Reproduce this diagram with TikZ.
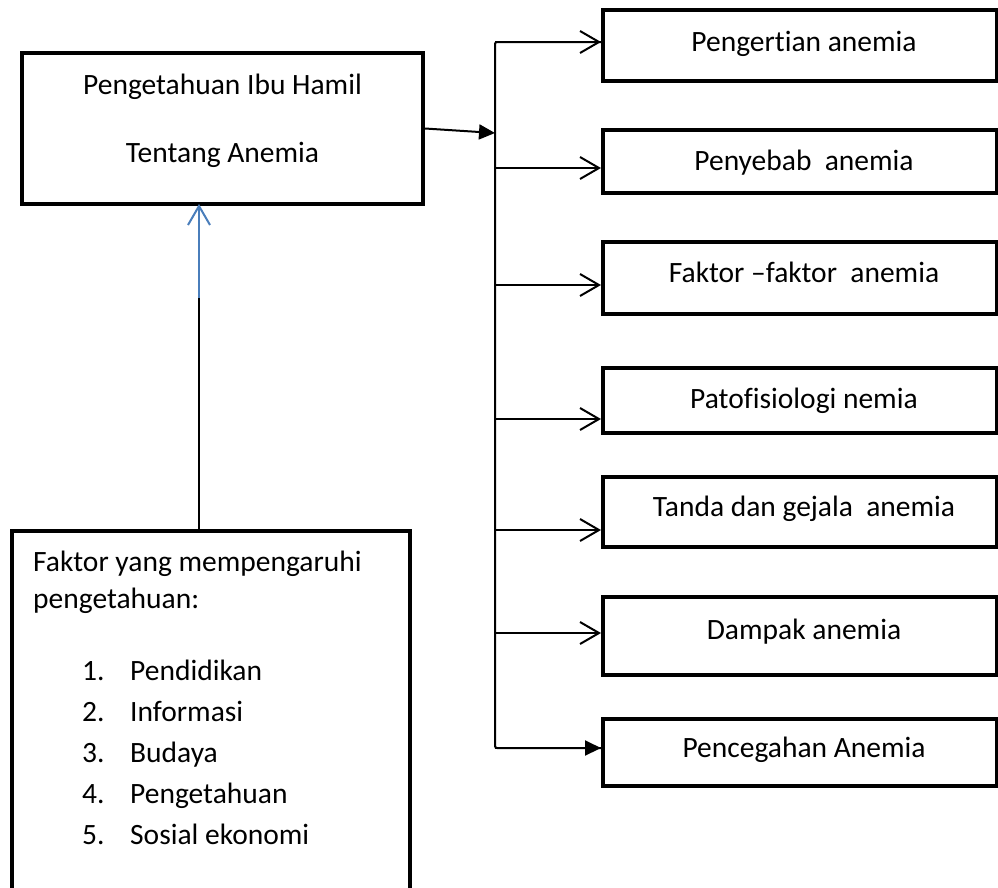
\documentclass[tikz,border=0pt]{standalone}
\usepackage{fontspec}
\setmainfont{Carlito}[Ligatures=NoCommon]
\usetikzlibrary{arrows.meta}
\definecolor{wordblue}{HTML}{4A7EBB}
\begin{document}
\begin{tikzpicture}[x=1pt,y=-1pt,
  box/.style={draw, line width=4pt, inner sep=0pt},
  lbl/.style={font=\fontsize{29.5}{35}\selectfont, anchor=base, inner sep=0pt},
  lblw/.style={font=\fontsize{29.5}{35}\selectfont, anchor=base west, inner sep=0pt},
  conn/.style={line width=2pt},
  openarr/.style={conn, -{Straight Barb[length=19pt,width=22pt,line width=2pt]}},
  fillarr/.style={conn, -{Triangle[length=16pt,width=15pt]}}]
\useasboundingbox (0,0) rectangle (998,887);
% main box
\node[box, minimum width=401pt, minimum height=151pt] (main) at (222.5,128.5) {};
\node[lbl] (m1) at (222.5,94) {Pengetahuan Ibu Hamil};
\node[lbl] (m2) at (222.5,162) {Tentang Anemia};
% bottom box
\node[box, minimum width=398pt, minimum height=361pt] (bot) at (211,711.5) {};
\node[lblw] (f1) at (33,571) {Faktor yang mempengaruhi};
\node[lblw] (f2) at (33,608) {pengetahuan:};
\node[lblw] (n1) at (82,680) {1.};
\node[lblw] (n2) at (82,721) {2.};
\node[lblw] (n3) at (82,762) {3.};
\node[lblw] (n4) at (82,803) {4.};
\node[lblw] (n5) at (82,844) {5.};
\node[lblw] (i1) at (130,680) {Pendidikan};
\node[lblw] (i2) at (130,721) {Informasi};
\node[lblw] (i3) at (130,762) {Budaya};
\node[lblw] (i4) at (130,803) {Pengetahuan};
\node[lblw] (i5) at (130,844) {Sosial ekonomi};
% right boxes
\node[box, minimum width=394pt, minimum height=71pt] (r1) at (800,45.5) {};
\node[box, minimum width=394pt, minimum height=63pt] (r2) at (800,161.5) {};
\node[box, minimum width=394pt, minimum height=72pt] (r3) at (800,278) {};
\node[box, minimum width=394pt, minimum height=65pt] (r4) at (800,400.5) {};
\node[box, minimum width=394pt, minimum height=70pt] (r5) at (800,512) {};
\node[box, minimum width=394pt, minimum height=78pt] (r6) at (800,636) {};
\node[box, minimum width=394pt, minimum height=67pt] (r7) at (800,752.5) {};
\node[lbl] (t1) at (804,51) {Pengertian anemia};
\node[lbl] (t2) at (804,170) {Penyebab\ \ anemia};
\node[lbl] (t3) at (804,282) {Faktor –faktor\ \ anemia};
\node[lbl] (t4) at (804,408) {Patofisiologi nemia};
\node[lbl] (t5) at (804,516) {Tanda dan gejala\ \ anemia};
\node[lbl] (t6) at (804,639) {Dampak anemia};
\node[lbl] (t7) at (804,757) {Pencegahan Anemia};
% branch
\coordinate (j) at (495,133);
\coordinate (b1) at (495,42);
\coordinate (b2) at (495,168);
\coordinate (b3) at (495,285);
\coordinate (b4) at (495,419);
\coordinate (b5) at (495,530);
\coordinate (b6) at (495,633);
\coordinate (b7) at (495,748);
\draw[fillarr] (main.east) -- (j);
\draw[conn, rounded corners=2pt] (b1 -| r1.west) -- (b1) -- (b7) -- (b7 -| r7.west);
\draw[openarr] (b1) -- (b1 -| r1.west);
\draw[openarr] (b2) -- (b2 -| r2.west);
\draw[openarr] (b3) -- (b3 -| r3.west);
\draw[openarr] (b4) -- (b4 -| r4.west);
\draw[openarr] (b5) -- (b5 -| r5.west);
\draw[openarr] (b6) -- (b6 -| r6.west);
\draw[fillarr] (b7) -- (b7 -| r7.west);
% upward connector
\coordinate (ub) at (199,531);
\coordinate (ut) at (199,204);
\coordinate (um) at (199,298);
\draw[conn] (ub) -- (ut);
\draw[conn, wordblue, -{Straight Barb[length=19pt,width=22pt,line width=2pt]}] (um) -- (ut);
\end{tikzpicture}
\end{document}
